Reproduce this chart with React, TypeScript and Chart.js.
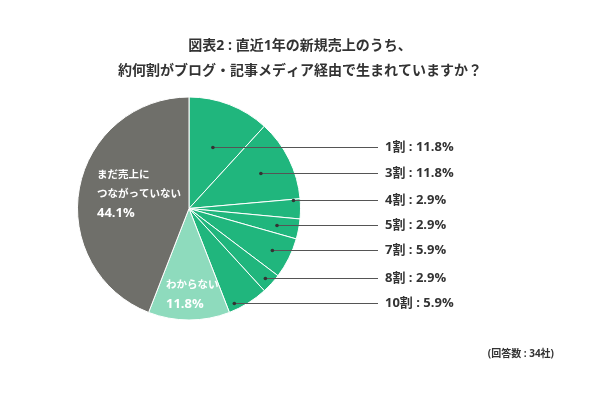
import React, { useEffect, useRef } from "react";
import { Chart, registerables } from "chart.js";

Chart.register(...registerables);

const categories = ["1割", "3割", "4割", "5割", "7割", "8割", "10割", "わからない", "まだ売上につながっていない"];
const values = [11.8, 11.8, 2.9, 2.9, 5.9, 2.9, 5.9, 11.8, 44.1];
const valueLabels = ["11.8%", "11.8%", "2.9%", "2.9%", "5.9%", "2.9%", "5.9%", "11.8%", "44.1%"];
const titleLines = ["図表2 : 直近1年の新規売上のうち、", "約何割がブログ・記事メディア経由で生まれていますか？"];
const innerLabelLines = ["まだ売上に", "つながっていない"];
const footnote = "(回答数 : 34社)";

const GREEN = "#20b67d";
const LIGHT = "#8edbbd";
const GRAY = "#6f6f6a";
const TEXT = "#333333";
const FONT = '"Open Sans", "Noto Sans CJK JP", sans-serif';

// layout: y of the outside label rows
const labelRowY = [147, 173, 200, 225, 250, 278, 303];

export default function App() {
  const ref = useRef<HTMLCanvasElement>(null);
  useEffect(() => {
    document.body.style.margin = "0";
    const overlay = {
      id: "overlay",
      afterDraw(chart: any) {
        const ctx = chart.ctx;
        const meta = chart.getDatasetMeta(0);
        ctx.save();
        // title
        ctx.fillStyle = TEXT;
        ctx.textAlign = "center";
        ctx.textBaseline = "middle";
        ctx.font = `bold 14px ${FONT}`;
        ctx.fillText(titleLines[0], 300, 46);
        ctx.fillText(titleLines[1], 300, 71);
        // footnote
        ctx.font = `bold 10px ${FONT}`;
        ctx.textAlign = "right";
        ctx.fillText(footnote, 554, 354);
        // leader lines
        const lineEnd = 378;
        for (let i = 0; i < labelRowY.length; i++) {
          const arc = meta.data[i];
          const { x, y, startAngle, endAngle, outerRadius } = arc.getProps(["x", "y", "startAngle", "endAngle", "outerRadius"], true);
          const mid = (startAngle + endAngle) / 2;
          const ly = labelRowY[i];
          const dy = ly - y;
          const maxR = outerRadius * 0.94;
          let px: number;
          const s = Math.sin(mid);
          const r = s !== 0 ? dy / s : -1;
          if (r > 0 && r <= maxR) {
            px = x + r * Math.cos(mid);
          } else {
            px = x + Math.sqrt(Math.max(maxR * maxR - dy * dy, 0));
          }
          ctx.strokeStyle = "#555555";
          ctx.lineWidth = 1;
          ctx.beginPath();
          ctx.moveTo(px, ly + 0.5);
          ctx.lineTo(lineEnd, ly + 0.5);
          ctx.stroke();
          ctx.fillStyle = "#333333";
          ctx.beginPath();
          ctx.arc(px, ly + 0.5, 1.8, 0, Math.PI * 2);
          ctx.fill();
          ctx.fillStyle = TEXT;
          ctx.textAlign = "left";
          ctx.textBaseline = "middle";
          ctx.font = `bold 13px ${FONT}`;
          ctx.fillText(`${categories[i]} : ${valueLabels[i]}`, 385, ly);
        }
        // inner labels
        ctx.fillStyle = "#ffffff";
        ctx.textAlign = "left";
        ctx.font = `bold 10.5px ${FONT}`;
        ctx.fillText(innerLabelLines[0], 97, 175);
        ctx.fillText(innerLabelLines[1], 97, 194);
        ctx.font = `bold 13px ${FONT}`;
        ctx.fillText(valueLabels[8], 97, 213);
        ctx.font = `bold 10.5px ${FONT}`;
        ctx.fillText(categories[7], 166, 285);
        ctx.font = `bold 13px ${FONT}`;
        ctx.fillText(valueLabels[7], 166, 304);
        ctx.restore();
      },
    };
    const chart = new Chart(ref.current!, {
      type: "pie",
      data: {
        labels: categories,
        datasets: [
          {
            data: values,
            backgroundColor: [GREEN, GREEN, GREEN, GREEN, GREEN, GREEN, GREEN, LIGHT, GRAY],
            borderColor: "#ffffff",
            borderWidth: 1,
          },
        ],
      },
      options: {
        responsive: false,
        animation: false,
        layout: { padding: { top: 96.5, bottom: 72.5, left: 77, right: 299 } },
        plugins: {
          legend: { display: false },
          tooltip: { enabled: false },
          title: { display: false },
        },
      },
      plugins: [overlay],
    });
    return () => chart.destroy();
  }, []);
  return (
    <div style={{ width: 600, height: 393, background: "#ffffff" }}>
      <canvas ref={ref} width={600} height={393} />
    </div>
  );
}
